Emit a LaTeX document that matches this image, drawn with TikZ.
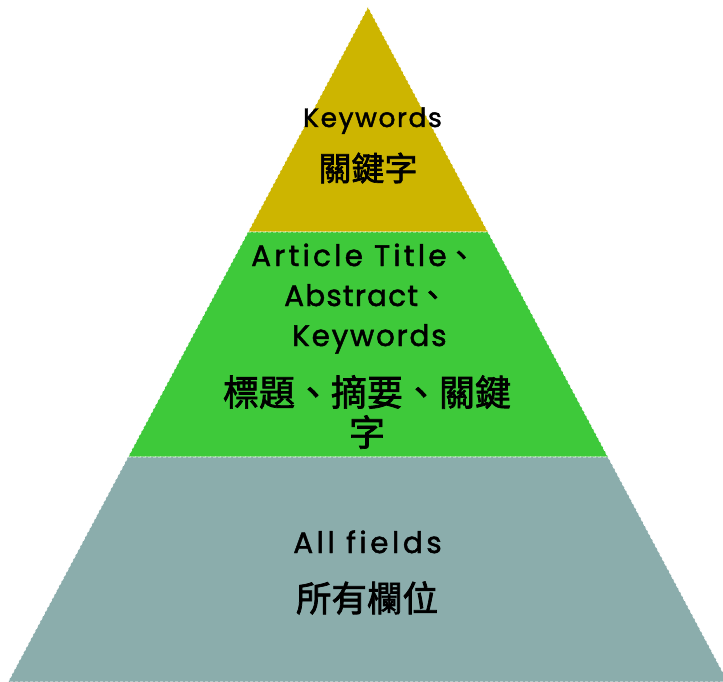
\documentclass[tikz,border=0pt]{standalone}
\usepackage{fontspec}
\setmainfont{Poppins}[FakeBold=1.6]
\newfontfamily\cjk{Noto Sans CJK TC}[FakeBold=2]
\definecolor{topcol}{RGB}{205,181,0}
\definecolor{midcol}{RGB}{62,201,58}
\definecolor{botcol}{RGB}{139,173,172}
\newcommand{\ls}[1]{\addfontfeatures{LetterSpace=#1}}
\tikzset{
  layer/.style={draw=white, line width=0.8pt, dash pattern=on 3pt off 2pt},
  latS/.style={font=\fontsize{26.5}{30}\selectfont, text=black, inner sep=0pt, anchor=base},
  latL/.style={font=\fontsize{29.5}{33}\selectfont, text=black, inner sep=0pt, anchor=base west},
  hanS/.style={font=\cjk\fontsize{33}{36}\selectfont, text=black, inner sep=0pt},
  hanL/.style={font=\cjk\fontsize{36}{40}\selectfont, text=black, inner sep=0pt}
}
\begin{document}
\begin{tikzpicture}[x=1pt,y=-1pt]
\useasboundingbox (0,0) rectangle (723,682);
\clip (0,0) rectangle (723,682);
% layers
\fill[topcol] (368,7) -- (488,232) -- (248,232) -- cycle;
\draw[layer] (368,7) -- (488,232) -- (248,232) -- cycle;
\fill[midcol] (248,232) -- (488,232) -- (608,457) -- (128,457) -- cycle;
\draw[layer] (248,232) -- (488,232) -- (608,457) -- (128,457) -- cycle;
\fill[botcol] (128,457) -- (608,457) -- (728,682) -- (8,682) -- cycle;
\draw[layer] (128,457) -- (608,457) -- (728,682) -- (8,682) -- cycle;
% texts
\node[latS] (k1) at (372.5,127) {\ls{6}Keywords};
\node[hanS] (h1) at (368,168) {關鍵字};
\node[latL] (a1) at (251,266) {\ls{11}Article Title\cjk{、}};
\node[latL] (a2) at (284,306) {\ls{4}Abstract\cjk{、}};
\node[latL] (a3) at (292,346) {\ls{6}Keywords};
\node[hanL] (h2) at (367,392) {標題、摘要、關鍵};
\node[hanL] (h3) at (367,432) {字};
\node[latL, anchor=base] (f1) at (367.5,553) {\ls{12}All fields};
\node[hanL, font=\cjk\fontsize{35.5}{40}\selectfont] (h4) at (367,598) {所有欄位};
\end{tikzpicture}
\end{document}
